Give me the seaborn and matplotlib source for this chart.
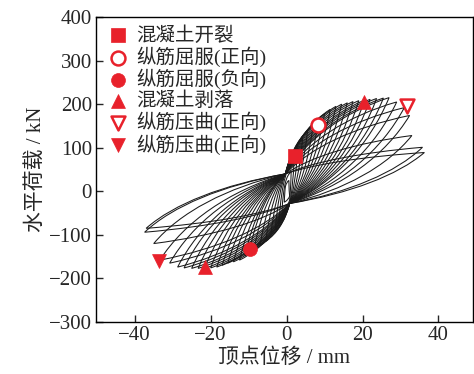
import matplotlib
matplotlib.use("Agg")
import matplotlib.pyplot as plt
import seaborn as sns
import pandas as pd
from matplotlib.path import Path
from matplotlib.patches import PathPatch

# ---- data ----
pos_disp = [0.6, 1.2, 2.0, 3.0, 4.2, 5.5, 7.0, 8.5, 10.0, 11.5, 13.0, 14.5, 16.0,
            17.5, 19.0, 20.5, 22.0, 23.7, 25.5, 27.0, 29.0, 31.0, 32.4, 33.0, 35.8, 36.3]
pos_force = [25, 45, 75, 100, 120, 138, 152, 165, 178, 188, 195, 200, 203,
             206, 208, 209, 211, 213, 214, 215, 205, 192, 174, 128, 101, 89]
neg_disp = [-0.6, -1.2, -2.0, -3.0, -4.2, -5.5, -7.0, -8.5, -9.7, -11.0, -12.4, -14.0, -15.5,
            -17.0, -18.4, -20.0, -21.6, -23.3, -25.0, -27.0, -28.7, -30.8, -33.4, -35.0, -37.0, -37.4]
neg_force = [-25, -45, -70, -90, -105, -115, -125, -130, -133, -148, -158, -162, -165,
             -170, -174, -176, -177, -177, -177, -176, -174, -165, -158, -120, -85, -94]
pinch_up = (-0.3, 40)
pinch_low = (0.8, -28)

marker_labels = ['混凝土开裂', '纵筋屈服(正向)', '纵筋屈服(负向)', '混凝土剥落',
                 '纵筋压曲(正向)', '纵筋压曲(正向)']
marker_x = [[2.1], [8.2], [-9.6], [20.3, -21.6], [31.6], [-33.7]]
marker_y = [[80], [152], [-133], [204, -174], [195], [-160]]
marker_shape = ['s', 'o', 'o', '^', 'v', 'v']
marker_filled = [True, False, True, True, False, True]

x_ticks = [-40, -20, 0, 20, 40]
y_ticks = [-300, -200, -100, 0, 100, 200, 300, 400]

RED = '#e8212b'

sns.set_style('ticks')
plt.rcParams['font.family'] = ['Liberation Serif', 'Noto Sans CJK SC']
plt.rcParams['axes.unicode_minus'] = True

fig = plt.figure(figsize=(4.74, 3.74), dpi=100)
ax = fig.add_axes([96 / 474, 1 - 322 / 374, (473 - 96) / 474, (322 - 17) / 374])


def seg(S, E, a=0.2, b=0.45, c=0.45, d=0.2):
    dx, dy = E[0] - S[0], E[1] - S[1]
    return [(S[0] + a * dx, S[1] + b * dy), (E[0] - c * dx, E[1] - d * dy), E]


for px, pf, nx, nf in zip(pos_disp, pos_force, neg_disp, neg_force):
    pu = (pinch_up[0], min(pinch_up[1], 0.45 * pf))
    pl = (pinch_low[0], max(pinch_low[1], 0.45 * nf))
    P = (px, pf)
    N = (nx, nf)
    verts = [pu]
    verts += seg(pu, P)
    verts += seg(P, pl)
    verts += seg(pl, N)
    verts += seg(N, pu)
    codes = [Path.MOVETO] + [Path.CURVE4] * 12
    ax.add_patch(PathPatch(Path(verts, codes), fill=False, edgecolor='#1a1a1a', lw=0.75))

for lab, xs, ys, m, f in zip(marker_labels, marker_x, marker_y, marker_shape, marker_filled):
    df = pd.DataFrame({'x': xs, 'y': ys})
    sns.scatterplot(data=df, x='x', y='y', marker=m, s=100,
                    color=RED if f else 'white', edgecolor=RED,
                    linewidth=1.8 if not f else 0.5, label=lab, ax=ax, zorder=5)

ax.set_xlim(-50.2, 49.1)
ax.set_ylim(-300, 400)
ax.set_xticks(x_ticks)
ax.set_yticks(y_ticks)
ax.tick_params(direction='in', length=5, width=1, labelsize=15, top=False, right=False, pad=3)
for s in ax.spines.values():
    s.set_linewidth(1.0)
    s.set_color('black')
ax.set_xlabel('顶点位移 / mm', fontsize=15, labelpad=2)
ax.set_ylabel('水平荷载 / kN', fontsize=15, labelpad=2)
ax.legend(loc='upper left', bbox_to_anchor=(0.0, 1.012), frameon=False, fontsize=14,
          handlelength=1.0, handletextpad=0.4, labelspacing=0.1,
          borderaxespad=0.45, borderpad=0.2)

fig.savefig('out.png', dpi=100)
